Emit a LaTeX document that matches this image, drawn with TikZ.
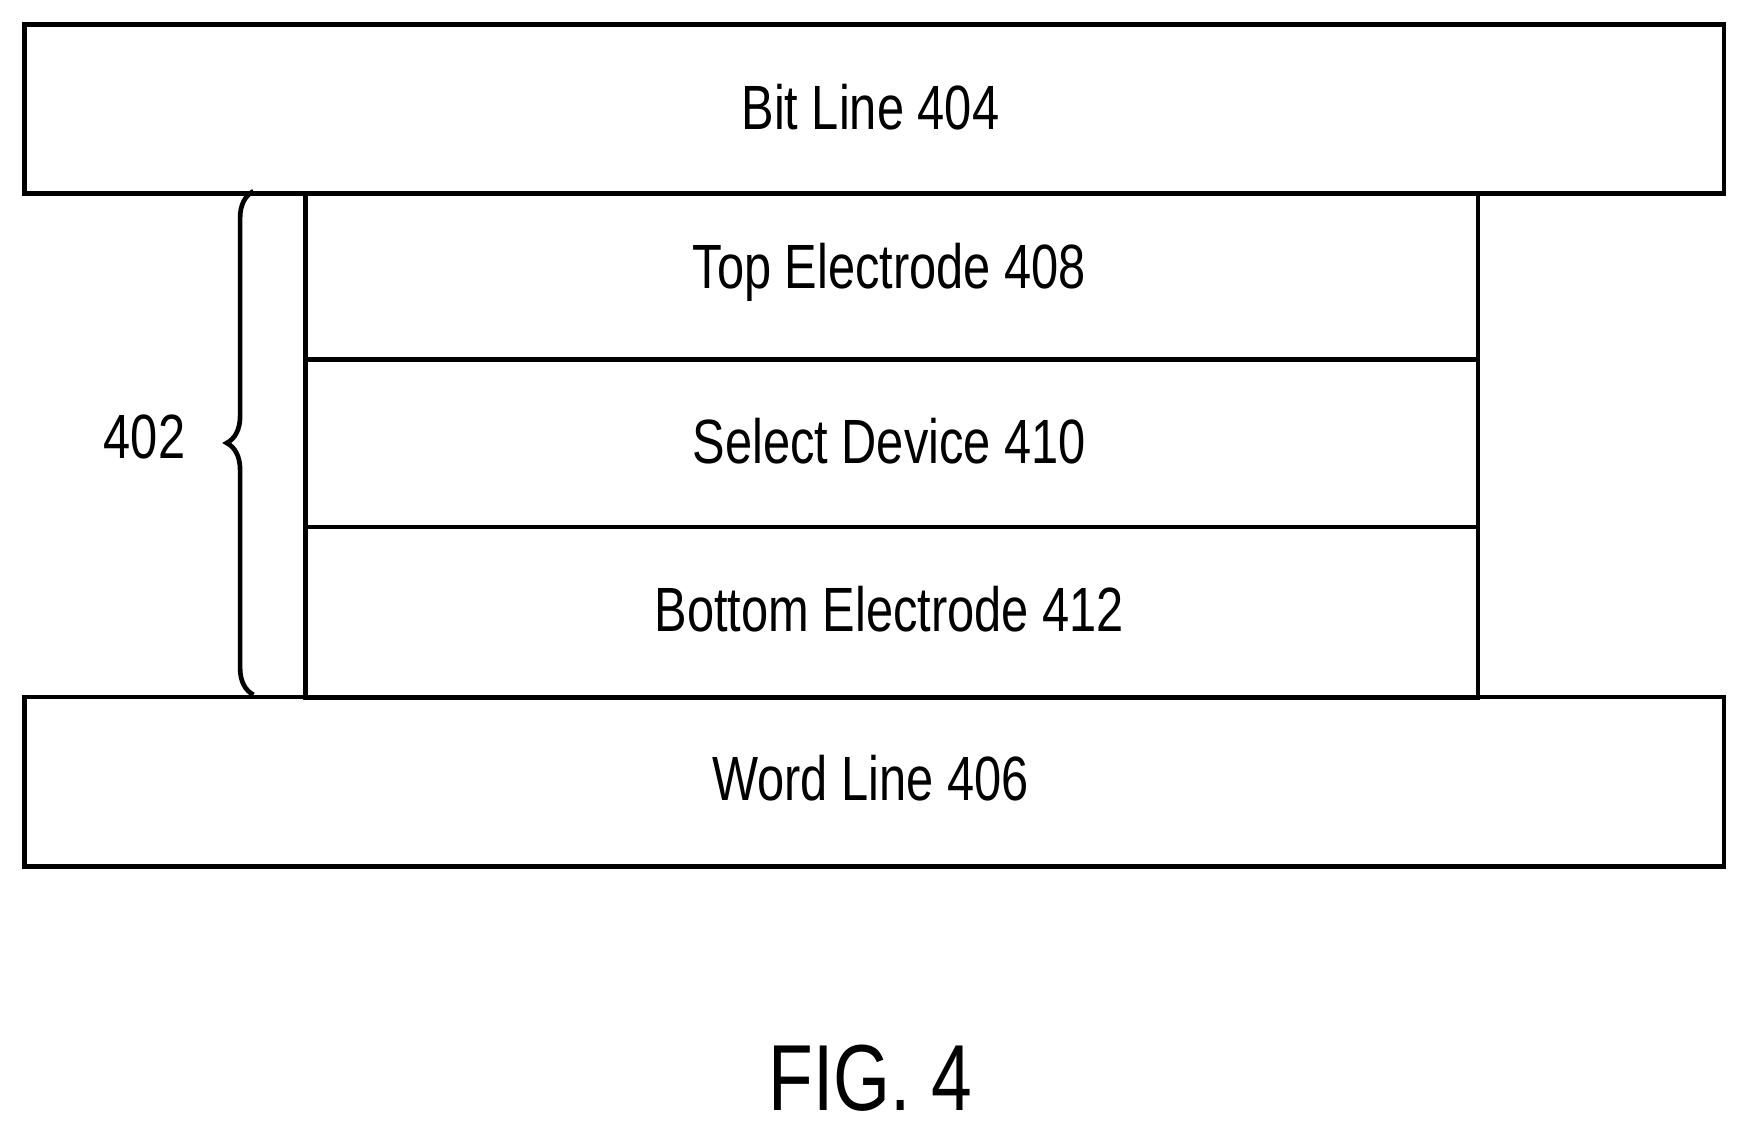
\documentclass[tikz,border=0pt]{standalone}
\usepackage{fontspec}
\setmainfont{Liberation Sans}[FakeStretch=0.78]
\usetikzlibrary{decorations.pathreplacing}
\begin{document}
\begin{tikzpicture}[x=0.01cm,y=-0.01cm,line width=1.2pt,
  lay/.style={draw,anchor=north west,inner sep=0pt},
  lbl/.style={font=\fontsize{16}{18}\selectfont}]
\useasboundingbox (0,0) rectangle (1568,1018);
\node[lay,minimum width=15.28cm,minimum height=1.52cm] (bl) at (20,20) {};
\node[lbl] at (783,96) {Bit Line 404};
\node[lay,minimum width=15.28cm,minimum height=1.52cm] (wl) at (20,625) {};
\node[lbl] at (783,700) {Word Line 406};
\node[lay,minimum width=10.54cm,minimum height=1.49cm] (te) at (273,172) {};
\node[lbl] at (800,245) {Top Electrode 408};
\node[lay,minimum width=10.54cm,minimum height=1.51cm] (sd) at (273,321) {};
\node[lbl] at (800,397) {Select Device 410};
\node[lay,minimum width=10.54cm,minimum height=1.53cm] (be) at (273,472) {};
\node[lbl] at (800,548) {Bottom Electrode 412};
\coordinate (b1) at (228,625);
\coordinate (b2) at (228,172);
\draw[decorate,decoration={brace,amplitude=0.24cm}] (b1) -- (b2);
\node[lbl] (n402) at (130,393) {402};
\node[font=\fontsize{24}{28}\selectfont] (fig) at (783,970) {FIG. 4};
\end{tikzpicture}
\end{document}
